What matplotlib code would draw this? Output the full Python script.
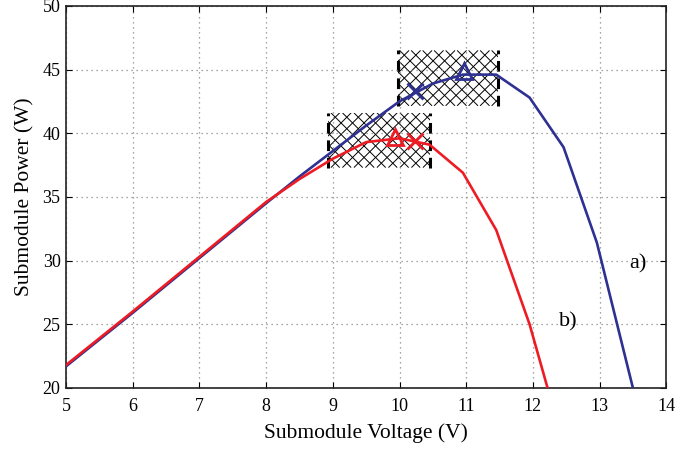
import matplotlib
matplotlib.use('Agg')
import matplotlib.pyplot as plt
import numpy as np
from matplotlib.patches import Rectangle
from matplotlib.collections import LineCollection

# curve a) (blue) and curve b) (red)
volt_a = [5.0, 6.0, 7.0, 8.0, 8.5, 9.0, 9.5, 10.0, 10.5, 10.95, 11.45, 11.95, 12.46, 12.96, 13.5]
power_a = [21.7, 25.9, 30.2, 34.5, 36.6, 38.6, 40.6, 42.5, 43.9, 44.6, 44.6, 42.8, 38.9, 31.4, 20.0]

volt_b = [5.0, 6.0, 7.0, 8.0, 8.5, 9.0, 9.5, 10.0, 10.45, 10.95, 11.45, 11.95, 12.22]
power_b = [21.8, 26.0, 30.3, 34.6, 36.4, 38.0, 39.3, 39.6, 39.1, 36.9, 32.4, 25.0, 20.0]

# operating points: triangle = MPP, cross = tracked point
mpp_a = (10.97, 44.85)
trk_a = (10.23, 43.3)
mpp_b = (9.93, 39.74)
trk_b = (10.23, 39.35)

# hatched search windows (x0, x1, y0, y1)
win_a = (9.97, 11.47, 42.15, 46.5)
win_b = (8.93, 10.45, 37.3, 41.6)

blue = '#2e3192'
red = '#ed1c24'

plt.rcParams['font.family'] = ['Liberation Serif', 'DejaVu Serif']

W, H, DPI = 6.75, 4.51, 100
pos = [0.098, 0.14, 0.889, 0.847]
fig = plt.figure(figsize=(W, H), dpi=DPI)
ax = fig.add_axes(pos)
ax.set_xlim(5, 14)
ax.set_ylim(20, 50)

# cross hatch at 45 degrees on screen, ~11.5 px cells
sx = ax.bbox.width / 9.0
sy = ax.bbox.height / 30.0
k = sx / sy
step = 11.5 / sx
for x0, x1, y0, y1 in (win_a, win_b):
    clip = Rectangle((x0, y0), x1 - x0, y1 - y0, facecolor='none',
                     edgecolor='none', transform=ax.transData)
    ax.add_patch(clip)
    span = (y1 - y0) / k
    segs = []
    for c in np.arange(x0 - span, x1 + span, step):
        segs.append([(c, y0), (c + span, y1)])
        segs.append([(c + span, y0), (c, y1)])
    lc = LineCollection(segs, colors='black', linewidths=0.7, zorder=1)
    ax.add_collection(lc)
    lc.set_clip_path(clip)
    for x in (x0, x1):
        ax.plot([x, x], [y0, y1], color='black', lw=2.2,
                dashes=(3.5, 2.2), zorder=1.5)

ax.plot(volt_a, power_a, color=blue, lw=1.9, zorder=3)
ax.plot(volt_b, power_b, color=red, lw=1.9, zorder=3)

ax.plot(*mpp_a, marker='^', ms=12, mfc='none', mec=blue, mew=2, zorder=4)
ax.plot(*trk_a, marker='x', ms=12, mec=blue, mew=2, zorder=4)
ax.plot(*mpp_b, marker='^', ms=12, mfc='none', mec=red, mew=2, zorder=4)
ax.plot(*trk_b, marker='x', ms=12, mec=red, mew=2, zorder=4)

ax.text(13.58, 29.7, 'a)', fontsize=16, ha='center', va='center')
ax.text(12.53, 25.2, 'b)', fontsize=16, ha='center', va='center')

ax.set_xticks(range(5, 15))
ax.set_yticks(range(20, 51, 5))
ax.grid(True, color='#888888', linestyle=(0, (1, 3)), linewidth=0.9)
ax.tick_params(direction='in', top=True, right=True, labelsize=13, length=4,
               width=0.8)
ax.tick_params(axis='x', pad=7)
ax.tick_params(axis='y', pad=4)
for s in ax.spines.values():
    s.set_linewidth(1.2)
    s.set_color('#222222')

ax.set_xlabel('Submodule Voltage (V)', fontsize=15.5, labelpad=6)
ax.set_ylabel('Submodule Power (W)', fontsize=15.5, labelpad=6)

fig.savefig('out.png', dpi=DPI)
